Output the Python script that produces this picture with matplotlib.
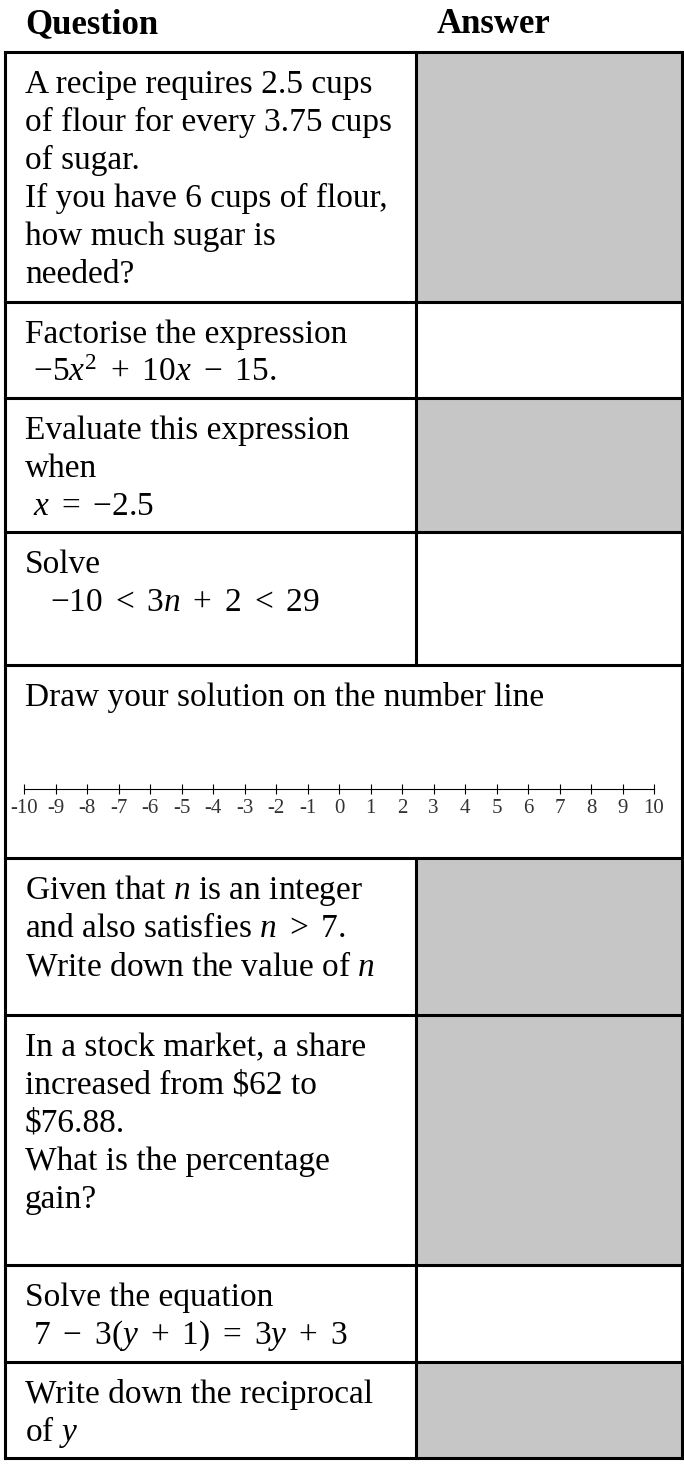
import matplotlib
matplotlib.use("Agg")
import matplotlib.pyplot as plt
from matplotlib.patches import Rectangle

plt.rcParams["font.family"] = ["Liberation Serif", "DejaVu Serif"]
plt.rcParams["mathtext.fontset"] = "custom"
plt.rcParams["mathtext.rm"] = "Liberation Serif"
plt.rcParams["mathtext.it"] = "Liberation Serif:italic"

headers = ["Question", "Answer"]

questions = [
    ["A recipe requires 2.5 cups", "of flour for every 3.75 cups", "of sugar.",
     "If you have 6 cups of flour,", "how much sugar is", "needed?"],
    ["Factorise the expression", r" $-5x^2\ +\ 10x\ -\ 15.$"],
    ["Evaluate this expression", "when", r" $x\ =\ {-2.5}$"],
    ["Solve", r"   $-10\ <\ 3n\ +\ 2\ <\ 29$"],
    ["Draw your solution on the number line"],
    ["Given that $n$ is an integer", r"and also satisfies $n\ >\ 7$.",
     "Write down the value of $n$"],
    ["In a stock market, a share", "increased from \\$62 to", "\\$76.88.",
     "What is the percentage", "gain?"],
    ["Solve the equation", r" $7\ -\ 3(y\ +\ 1)\ =\ 3y\ +\ 3$"],
    ["Write down the reciprocal", "of $y$"],
]
shaded = [True, False, True, False, None, True, True, False, True]
row_tops = [52, 302, 398, 532, 665, 858, 1015, 1265, 1362, 1458]

number_line = list(range(-10, 11))

W, H = 684, 1467
fig = plt.figure(figsize=(W / 100, H / 100), dpi=100)
ax = fig.add_axes([0, 0, 1, 1])
ax.set_xlim(0, W)
ax.set_ylim(H, 0)
ax.axis("off")

left, mid, right = 5, 416, 682
grey = "#c6c6c6"
fs = 24

ax.text(25, 33, headers[0], fontsize=25, fontweight="bold", va="baseline")
ax.text(437, 33, headers[1], fontsize=25, fontweight="bold", va="baseline")

for i, lines in enumerate(questions):
    top, bot = row_tops[i], row_tops[i + 1]
    if shaded[i]:
        ax.add_patch(Rectangle((mid, top), right - mid, bot - top,
                               facecolor=grey, edgecolor="none"))
    for j, line in enumerate(lines):
        ax.text(25, top + 41 + 38 * j, line, fontsize=fs, va="baseline")
    ax.plot([left, right], [top, top], color="black", lw=2.2)
    if shaded[i] is not None:
        ax.plot([mid, mid], [top, bot], color="black", lw=2.2)

ax.plot([left, right], [row_tops[-1], row_tops[-1]], color="black", lw=2.2)
ax.plot([left, left], [row_tops[0], row_tops[-1]], color="black", lw=2.2)
ax.plot([right, right], [row_tops[0], row_tops[-1]], color="black", lw=2.2)

# number line inside the full-width row
nl = fig.add_axes([24 / W, 1 - 789 / H, 630 / W, 0.001])
nl.set_xlim(number_line[0], number_line[-1])
nl.set_yticks([])
for s in ["top", "left", "right"]:
    nl.spines[s].set_visible(False)
nl.spines["bottom"].set_linewidth(0.8)
nl.patch.set_alpha(0)
nl.set_xticks(number_line)
nl.set_xticklabels([str(v) for v in number_line])
nl.tick_params(axis="x", direction="inout", length=7, width=0.8, pad=4,
               labelsize=15, labelcolor="#333333")

fig.savefig("out.png", dpi=100)
